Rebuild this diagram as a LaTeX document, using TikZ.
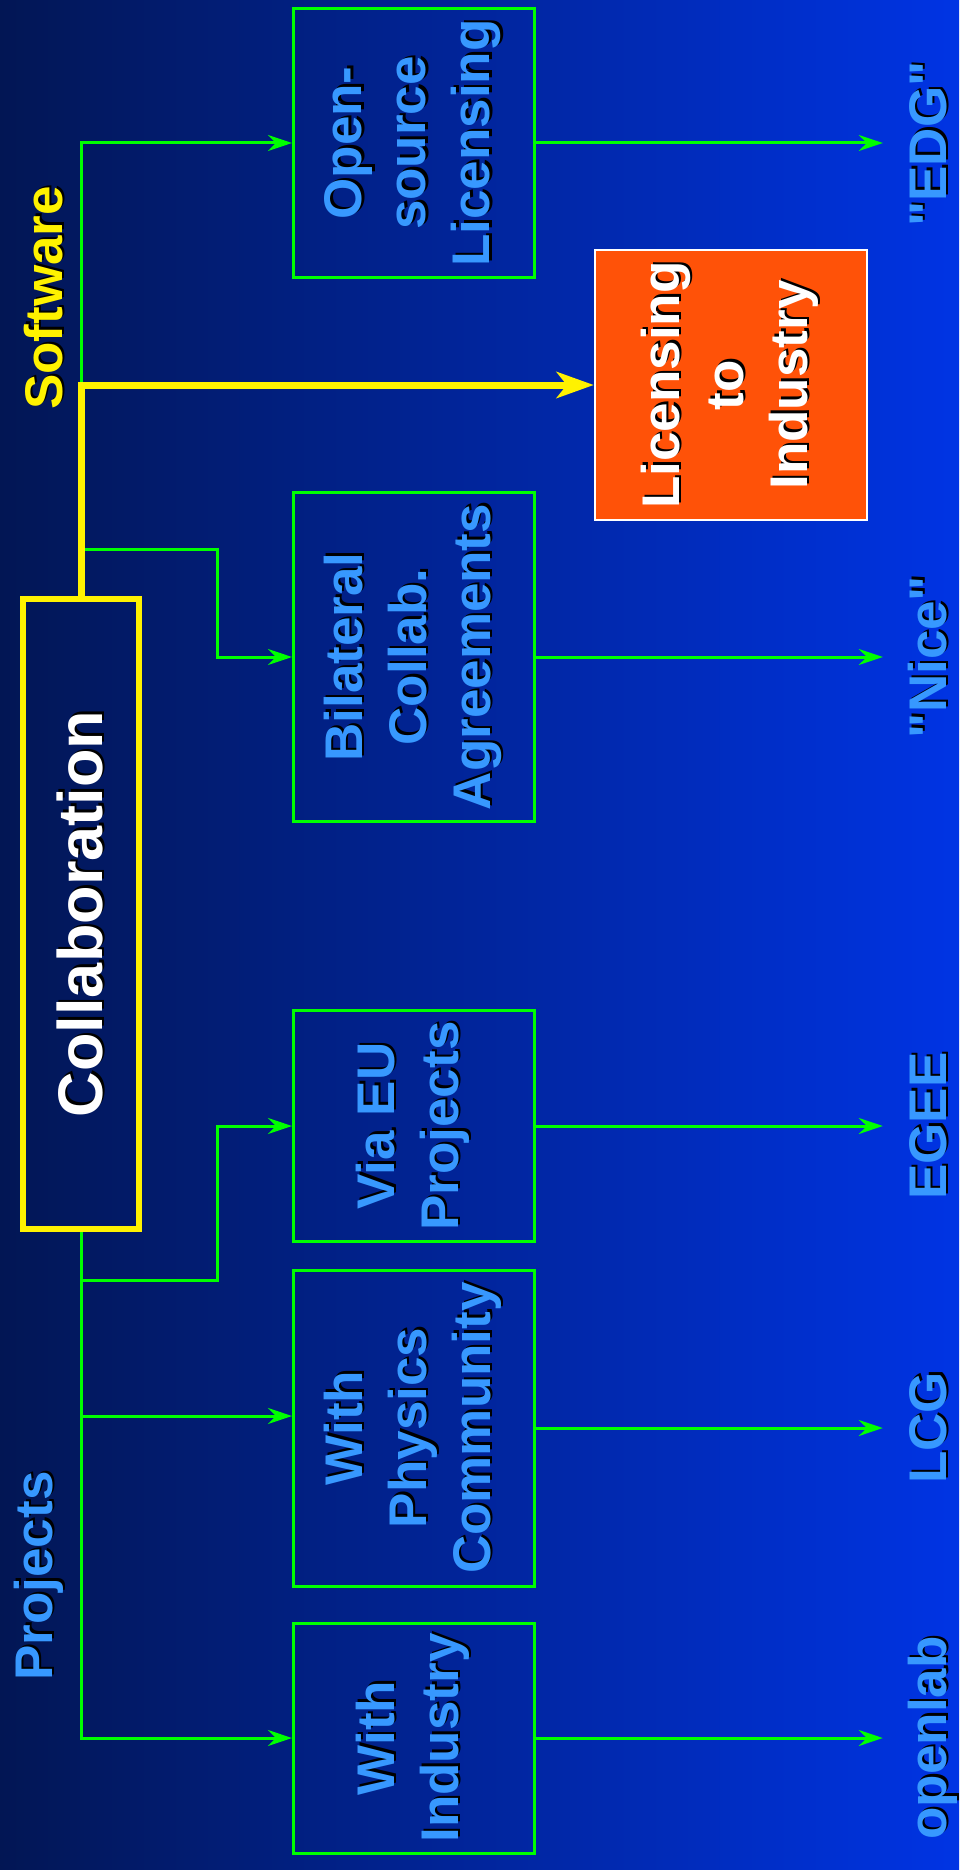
\documentclass[tikz,border=0pt]{standalone}
\usepackage{fontspec}
\setmainfont{Liberation Sans}
\usetikzlibrary{arrows.meta}

\definecolor{bgleft}{RGB}{2,22,84}
\definecolor{bgright}{RGB}{0,52,228}
\definecolor{txtblue}{RGB}{55,152,255}
\definecolor{boxgreen}{RGB}{0,255,0}
\definecolor{licorange}{RGB}{255,82,8}

% text with a black drop shadow
\newcommand{\shd}[1]{\rlap{\hspace{2.5pt}\raisebox{-2.5pt}{\color{black}#1}}#1}

\tikzset{
	big/.style={font=\bfseries\fontsize{53}{64}\selectfont},
	greenbox/.style={big, draw=boxgreen, line width=3pt, rotate=90, minimum height=241pt, align=center, text=txtblue, inner sep=0pt},
	outlbl/.style={big, rotate=90, anchor=base, text=txtblue, text height=38pt, inner xsep=0pt, inner ysep=25pt},
	garrow/.style={draw=boxgreen, line width=3pt, -{Stealth[length=24pt, width=16pt, inset=8pt]}},
	yarrow/.style={draw=yellow, line width=7pt, -{Stealth[length=37pt, width=26pt, inset=10pt]}},
}

\begin{document}
\begin{tikzpicture}[x=1pt, y=-1pt]
	\useasboundingbox (0,0) rectangle (959,1870);
	\shade[left color=bgleft, right color=bgright] (0,0) rectangle (959,1870);

	\node[draw=yellow, line width=6pt, rotate=90, minimum width=630pt, minimum height=116pt, text=white, font=\bfseries\fontsize{63}{76}\selectfont] (collab) at (81,914) {\shd{Collaboration}};

	\node[greenbox, minimum width=269pt] (os) at (414,143) {\shd{Open-}\\\shd{source}\\\shd{Licensing}};
	\node[greenbox, minimum width=329pt] (bil) at (414,657) {\shd{Bilateral}\\\shd{Collab.}\\\shd{Agreements}};
	\node[greenbox, minimum width=231pt] (eu) at (414,1126) {\shd{Via EU}\\\shd{Projects}};
	\node[greenbox, minimum width=316pt] (phy) at (414,1428) {\shd{With}\\\shd{Physics}\\\shd{Community}};
	\node[greenbox, minimum width=230pt] (ind) at (414,1738) {\shd{With}\\\shd{Industry}};

	\node[big, rotate=90, draw=white, line width=2.5pt, fill=licorange, minimum width=270pt, minimum height=272pt, align=center, text=white] (lic) at (731,385) {\shd{Licensing}\\\shd{to}\\\shd{Industry}};

	\node[big, rotate=90, anchor=base, text=yellow] (soft) at (62,298) {\shd{Software}};
	\node[big, rotate=90, anchor=base, text=txtblue] (proj) at (52,1576) {\shd{Projects}};

	\node[outlbl] (edg) at (946,144) {\shd{\textquotedbl EDG\textquotedbl}};
	\node[outlbl] (nice) at (946,657) {\shd{\textquotedbl Nice\textquotedbl}};
	\node[outlbl] (egee) at (946,1126) {\shd{EGEE}};
	\node[outlbl] (lcg) at (946,1428) {\shd{LCG}};
	\node[outlbl] (olab) at (946,1738) {\shd{openlab}};

	% branches off the trunk
	\coordinate (bsplit) at (81,549);
	\coordinate (esplit) at (81,1280);
	\coordinate (psplit) at (81,1416);
	\draw[garrow] (collab.east) |- (os.north);
	\draw[garrow] (bsplit) -- ++(136,0) |- (bil.north);
	\draw[garrow] (collab.west) |- (ind.north);
	\draw[garrow] (esplit) -- ++(136,0) |- (eu.north);
	\draw[garrow] (psplit) -- (psplit -| phy.north);
	\foreach \a/\b in {os/edg, bil/nice, eu/egee, phy/lcg, ind/olab}
		\draw[garrow] (\a.south) -- (\a.south -| \b.north);
	\draw[yarrow] (collab.east) |- (lic.north);
\end{tikzpicture}
\end{document}
